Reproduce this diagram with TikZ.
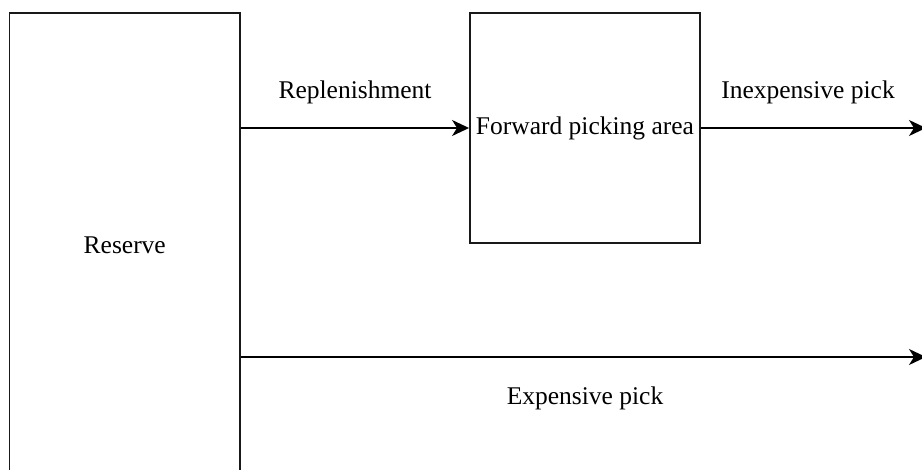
\documentclass[tikz,border=0pt]{standalone}
\usepackage{fontspec}
\setmainfont{Liberation Serif}
\usetikzlibrary{arrows.meta}
\begin{document}
\begin{tikzpicture}[x=1pt,y=1pt,
  box/.style={draw=black!90, line width=1.9pt, inner sep=0pt, font=\fontsize{25.5}{30}\selectfont},
  flow/.style={line width=1.7pt, -{Stealth[length=17pt,width=16pt,inset=5pt]}},
  lbl/.style={font=\fontsize{25.5}{30}\selectfont, inner sep=0pt}]
  \useasboundingbox (0,0) rectangle (922,-470);
  % storage areas
  \node[box, minimum width=230.5pt, minimum height=464pt] (reserve) at (124.75,-245) {Reserve};
  \node[box, minimum width=230pt, minimum height=230pt] (fwd) at (585,-128) {Forward picking area};
  % outgoing ends at the right border
  \coordinate (out1) at (926,-128);
  \coordinate (out2) at (926,-357);
  % flows
  \draw[flow] (reserve.east |- fwd.west) -- (fwd.west);
  \draw[flow] (fwd.east) -- (out1);
  \draw[flow] (reserve.east |- out2) -- (out2);
  % flow labels
  \node[lbl] (lrep) at (355,-92) {Replenishment};
  \node[lbl] (linx) at (808,-92) {Inexpensive pick};
  \node[lbl] (lexp) at (585,-398) {Expensive pick};
\end{tikzpicture}
\end{document}
